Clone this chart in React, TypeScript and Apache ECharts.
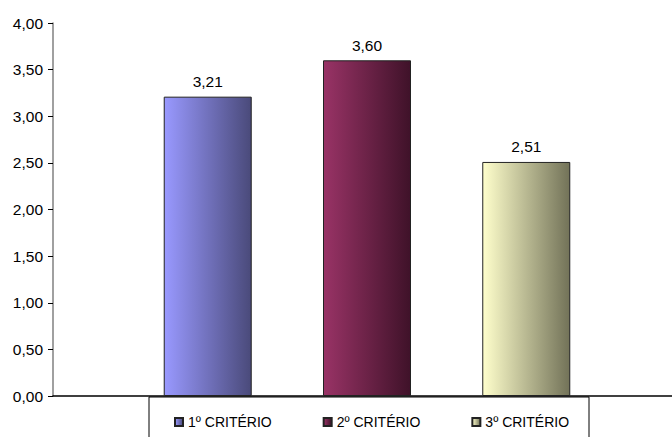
import React, { useEffect, useRef } from "react";
import * as echarts from "echarts";

const seriesNames = ["1º CRITÉRIO", "2º CRITÉRIO", "3º CRITÉRIO"];
const values = [3.21, 3.6, 2.51];
const lightColors = ["#9999ff", "#993366", "#ffffcc"];
const darkColors = ["#4a4a7a", "#3f1229", "#727258"];
const yTicks = { min: 0, max: 4, interval: 0.5 };

const fmt = (v: number) => v.toFixed(2).replace(".", ",");

export default function App() {
  const ref = useRef<HTMLDivElement>(null);
  useEffect(() => {
    const chart = echarts.init(ref.current!, null, { renderer: "svg" });
    const font = "'Liberation Sans', Arial, sans-serif";
    chart.setOption({
      animation: false,
      textStyle: { fontFamily: font },
      grid: { left: 53, right: -9, top: 23, bottom: 41, outerBoundsMode: "none", containLabel: false },
      xAxis: {
        type: "category",
        data: [""],
        axisLine: { lineStyle: { color: "#000", width: 1.5 } },
        axisTick: { show: false },
        axisLabel: { show: false },
      },
      yAxis: {
        type: "value",
        min: yTicks.min,
        max: yTicks.max,
        interval: yTicks.interval,
        axisLine: { show: true, lineStyle: { color: "#808080", width: 1.5 } },
        axisTick: { show: true, length: 5, lineStyle: { color: "#000" } },
        splitLine: { show: false },
        axisLabel: {
          formatter: (v: number) => fmt(v),
          color: "#000",
          fontSize: 15.5,
          fontFamily: font,
          margin: 10,
        },
      },
      legend: {
        left: 169,
        top: 410,
        itemWidth: 8,
        itemHeight: 8,
        itemGap: 51,
        icon: "rect",
        textStyle: { fontSize: 14, color: "#000", fontFamily: font },
        data: seriesNames,
      },
      graphic: [
        {
          type: "rect",
          shape: { x: 149, y: 397, width: 440, height: 60 },
          style: { fill: "none", stroke: "#000", lineWidth: 1 },
          silent: true,
          z: 10,
        },
      ],
      series: seriesNames.map((name, i) => ({
        name,
        type: "bar",
        data: [values[i]],
        barWidth: 88,
        barGap: "81%",
        itemStyle: {
          color: new echarts.graphic.LinearGradient(0, 0, 1, 0, [
            { offset: 0, color: lightColors[i] },
            { offset: 1, color: darkColors[i] },
          ]),
          borderColor: "#222",
          borderWidth: 1,
        },
        label: {
          show: true,
          position: "top",
          distance: 7,
          formatter: (p: any) => fmt(p.value),
          color: "#000",
          fontSize: 15.5,
          fontFamily: font,
        },
      })),
    });
    return () => chart.dispose();
  }, []);
  return <div ref={ref} style={{ width: 672, height: 437, position: "absolute", left: 0, top: 0 }} />;
}
